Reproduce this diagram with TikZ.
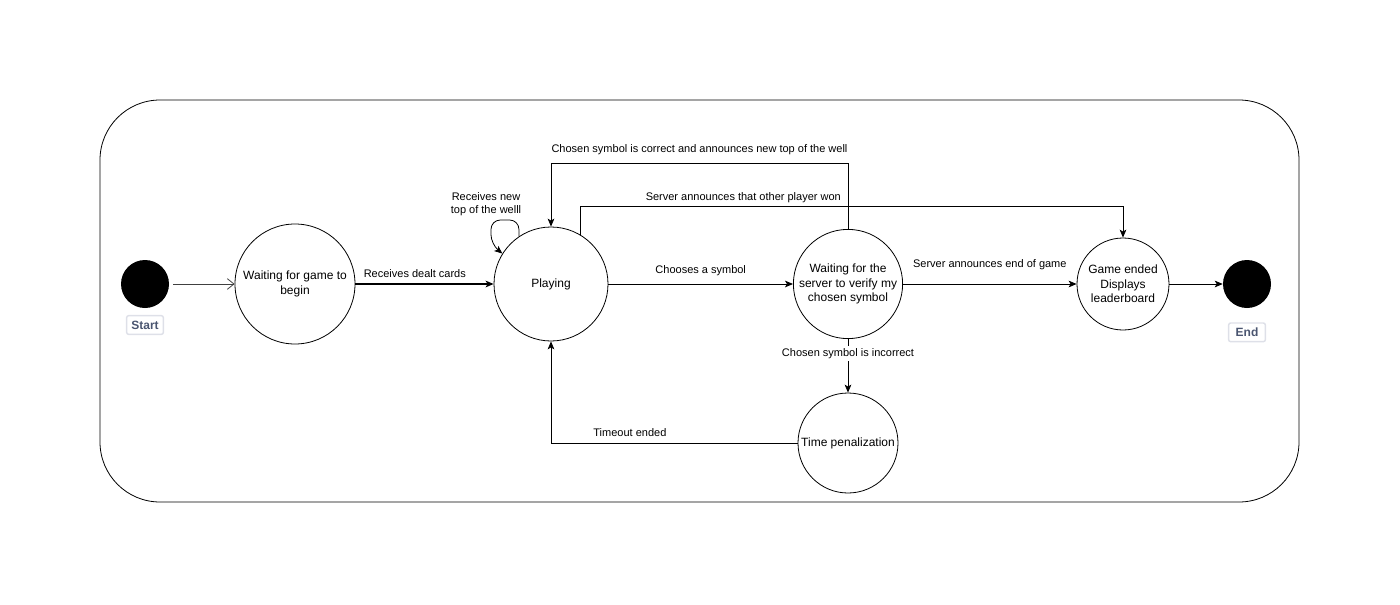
\documentclass[tikz,border=0pt]{standalone}
\usepackage{fontspec}
\setmainfont{Liberation Sans}
\usetikzlibrary{arrows.meta}
\usetikzlibrary{positioning}
\definecolor{tagtext}{RGB}{74,85,112}
\definecolor{tagline}{RGB}{222,224,232}
\tikzset{
    state/.style={
           circle,
           draw=black, line width=0.6pt,
           inner sep=1pt,
           align=center,
           font=\fontsize{9}{10.8}\selectfont,
           },
    dot/.style={
           circle,
           fill=black,
           minimum size=36pt,
           inner sep=0pt,
           },
    tag/.style={
           rectangle,
           rounded corners=1.5pt,
           draw=tagline, line width=1.1pt,
           text=tagtext,
           minimum width=27.5pt,
           minimum height=14pt,
           inner sep=1pt,
           font=\fontsize{9}{10}\selectfont\bfseries,
           },
    lbl/.style={
           font=\fontsize{8.25}{9.5}\selectfont,
           inner sep=1.5pt,
           align=center,
           },
    arr/.style={
           -{Stealth[length=6pt,width=5pt,inset=1.5pt]},
           draw=black, line width=0.6pt,
           },
}

\begin{document}
\begin{tikzpicture}[x=0.75pt, y=-0.75pt]
	\useasboundingbox (0,0) rectangle (1400,604);

	% frame round the whole machine
	\draw[line width=0.6pt, rounded corners=45pt] (100,100) rectangle (1299,502);

	\node[dot] (init) at (145,284) {};
	\node[tag, below=5pt of init] (starttag) {Start};

	\node[state, minimum size=90pt] (waiting) at (295,284) {Waiting for game to\\begin};
	\node[state, minimum size=85.5pt] (playing) at (551,284) {Playing};
	\node[state, minimum size=81pt] (verify) at (848,284) {Waiting for the\\server to verify my\\chosen symbol};
	\node[state, minimum size=69pt] (ended) at (1123,284) {Game ended\\Displays\\leaderboard};
	\node[state, minimum size=75pt] (penalty) at (848,443) {Time penalization};

	\node[dot] (final) at (1247,284) {};
	\node[tag, below=10.5pt of final] (endtag) {End};

	% transitions
	\draw[-{Straight Barb[length=5pt,width=8pt]}, line width=0.6pt, draw=black!75, shorten <=3pt]
		(init) -- (waiting);
	\draw[arr, line width=0.9pt] (waiting) -- node[lbl, above=3pt, pos=0.43] {Receives dealt cards} (playing);
	\draw[arr] (playing) -- node[lbl, above=4.5pt] {Chooses a symbol} (verify);
	\draw[arr] (verify) -- node[lbl, above=9pt] {Server announces end of game} (ended);
	\draw[arr] (ended) -- (final);

	\draw[arr] (verify.north) -- ++(0,-66)
		-| node[lbl, pos=0.25, above=4pt] {Chosen symbol is correct and announces new top of the well} (playing.north);
	\draw[arr] (playing.59) -- ++(0,-28)
		-| node[lbl, pos=0.15, above=1pt] {Server announces that other player won} (ended.north);

	\draw[arr] (verify) -- node[lbl, fill=white, pos=0.27] {Chosen symbol is incorrect} (penalty);
	\draw[arr] (penalty.west) -| node[lbl, pos=0.34, above=3pt] {Timeout ended} (playing.south);

	% self loop on playing
	\draw[arr, rounded corners=7pt] (playing.124) -- (519,220) -- (491,220) -- (491,244) -- (playing.148);
	\node[lbl] (looplbl) at (486,204) {Receives new\\top of the welll};
\end{tikzpicture}
\end{document}
